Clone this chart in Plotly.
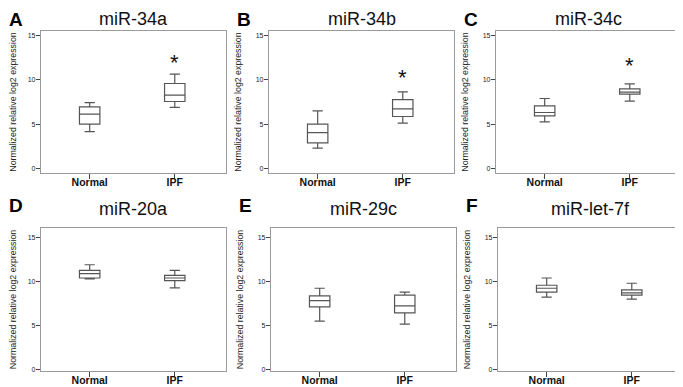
import plotly.graph_objects as go

groups = ["Normal", "IPF"]
titles = ["miR-34a", "miR-34b", "miR-34c", "miR-20a", "miR-29c", "miR-let-7f"]
letters = ["A", "B", "C", "D", "E", "F"]

# per panel: [Normal, IPF]
lower = [[4.15, 6.9], [2.27, 5.1], [5.25, 7.6], [10.28, 9.26], [5.48, 5.14], [8.2, 7.97]]
q1 = [[5.0, 7.56], [2.87, 5.86], [5.93, 8.39], [10.39, 10.09], [7.1, 6.42], [8.77, 8.43]]
median = [[6.12, 8.27], [4.04, 6.72], [6.31, 8.61], [10.88, 10.39], [7.82, 7.22], [9.22, 8.69]]
q3 = [[6.95, 9.6], [4.99, 7.78], [7.06, 8.99], [11.26, 10.69], [8.35, 8.43], [9.56, 9.03]]
upper = [[7.44, 10.65], [6.5, 8.65], [7.9, 9.56], [11.9, 11.26], [9.22, 8.77], [10.39, 9.79]]
star_y = [11.7, 10.1, 11.4, None, None, None]

W, H = 683, 387
xpix = [(33, 218), (261, 446), (488, 673), (33, 218), (263, 448), (490, 675)]
ypix = [(23, 166), (23, 166), (23, 166), (221, 365), (221, 365), (221, 365)]
yranges = [[-0.56, 15.56]] * 3 + [[-0.22, 16.1]] * 3
title_top = [0, 0, 0, 191, 191, 191]
letter_top = [0, 0, 0, 187, 187, 187]

fig = go.Figure()
font = "Liberation Sans, Arial, sans-serif"
for i in range(6):
    n = i + 1
    xa = "x" if n == 1 else f"x{n}"
    ya = "y" if n == 1 else f"y{n}"
    fig.add_trace(go.Box(
        x=groups, q1=q1[i], median=median[i], q3=q3[i],
        lowerfence=lower[i], upperfence=upper[i],
        width=0.24, whiskerwidth=0.5,
        fillcolor="white", line=dict(color="#555555", width=1.2),
        boxpoints=False, showlegend=False, hoverinfo="skip",
        xaxis=xa, yaxis=ya))
    x0, x1 = xpix[i]
    y0, y1 = ypix[i]
    xd = [x0 / W, x1 / W]
    yd = [1 - y1 / H, 1 - y0 / H]
    axkey = "xaxis" if n == 1 else f"xaxis{n}"
    aykey = "yaxis" if n == 1 else f"yaxis{n}"
    fig.layout[axkey] = dict(
        domain=xd, anchor=ya, type="category", range=[-0.572, 1.602],
        showline=True, linecolor="#9a9a9a", linewidth=1.2, mirror=True,
        ticks="outside", ticklen=5, tickcolor="#444", tickwidth=1,
        ticklabelstandoff=-6,
        showgrid=False, zeroline=False,
        tickfont=dict(family=font, size=10.5, color="#111", weight="bold"))
    fig.layout[aykey] = dict(
        domain=yd, anchor=xa, range=yranges[i],
        tickvals=[0, 5, 10, 15], ticktext=["0", "5", "10", "15"],
        showline=True, linecolor="#9a9a9a", linewidth=1.2, mirror=True,
        ticks="outside", ticklen=4, tickcolor="#444", tickwidth=1,
        ticklabelstandoff=-1,
        showgrid=False, zeroline=False,
        tickfont=dict(family=font, size=7, color="#222"),
        title=dict(text="Normalized relative log2 expression", standoff=12,
                   font=dict(family=font, size=8.8, color="#222")))
    # panel title
    fig.add_annotation(text=titles[i], xref="paper", yref="paper",
                       x=(x0 + x1) / 2 / W, y=1 - title_top[i] / H,
                       showarrow=False, font=dict(family=font, size=18, color="#111"),
                       xanchor="center", yanchor="top", borderpad=0)
    fig.add_annotation(text="<b>" + letters[i] + "</b>", xref="paper", yref="paper",
                       x=(x0 - 33) / W, y=1 - letter_top[i] / H,
                       showarrow=False, font=dict(family=font, size=19, color="#000"),
                       xanchor="left", yanchor="top", borderpad=0)
    if star_y[i] is not None:
        fig.add_annotation(text="*", x="IPF", y=star_y[i], xref=xa, yref=ya,
                           showarrow=False, font=dict(family=font, size=22, color="#111"),
                           xanchor="center", yanchor="middle", yshift=2)

fig.update_layout(width=W, height=H, margin=dict(l=0, r=0, t=0, b=0),
                  paper_bgcolor="white", plot_bgcolor="white")
fig.write_html("out.html")
